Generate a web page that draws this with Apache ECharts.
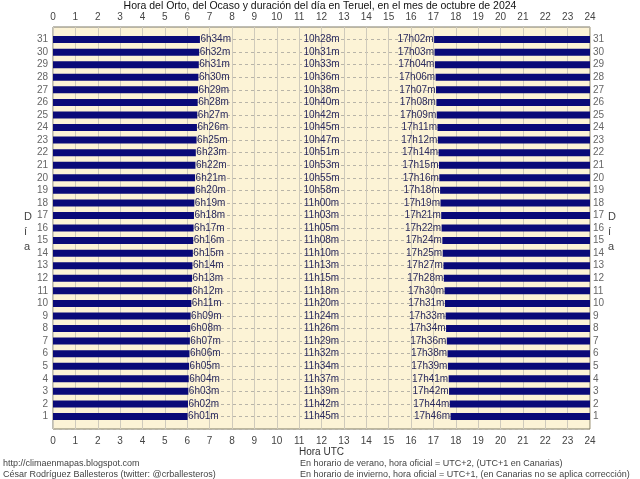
<!DOCTYPE html>
<html>
<head>
<meta charset="utf-8">
<script src="https://cdn.jsdelivr.net/npm/echarts@6/dist/echarts.min.js"></script>
<style>html,body{margin:0;padding:0;background:#fff}#c{width:640px;height:479px}</style>
</head>
<body>
<div id="c"></div>
<script>
const days = [1,2,3,4,5,6,7,8,9,10,11,12,13,14,15,16,17,18,19,20,21,22,23,24,25,26,27,28,29,30,31];
const sunrise = ['6h01m','6h02m','6h03m','6h04m','6h05m','6h06m','6h07m','6h08m','6h09m','6h11m','6h12m','6h13m','6h14m','6h15m','6h16m','6h17m','6h18m','6h19m','6h20m','6h21m','6h22m','6h23m','6h25m','6h26m','6h27m','6h28m','6h29m','6h30m','6h31m','6h32m','6h34m'];
const dayLength = ['11h45m','11h42m','11h39m','11h37m','11h34m','11h32m','11h29m','11h26m','11h24m','11h20m','11h18m','11h15m','11h13m','11h10m','11h08m','11h05m','11h03m','11h00m','10h58m','10h55m','10h53m','10h51m','10h47m','10h45m','10h42m','10h40m','10h38m','10h36m','10h33m','10h31m','10h28m'];
const sunset = ['17h46m','17h44m','17h42m','17h41m','17h39m','17h38m','17h36m','17h34m','17h33m','17h31m','17h30m','17h28m','17h27m','17h25m','17h24m','17h22m','17h21m','17h19m','17h18m','17h16m','17h15m','17h14m','17h12m','17h11m','17h09m','17h08m','17h07m','17h06m','17h04m','17h03m','17h02m'];
const hourTicks = [0,1,2,3,4,5,6,7,8,9,10,11,12,13,14,15,16,17,18,19,20,21,22,23,24];

function toHours(s){ const m = s.match(/(\d+)h(\d+)m/); return +m[1] + (+m[2])/60; }

const data = days.map((d,i)=>[d, toHours(sunrise[i]), toHours(sunset[i]), sunrise[i], dayLength[i], sunset[i]]);

const NAVY = '#0a0a78';
const TXT = '#2a2a5e';
const FONT = '10px "Liberation Sans", Arial, sans-serif';

const chart = echarts.init(document.getElementById('c'), null, {renderer:'canvas'});
chart.setOption({
  animation:false,
  backgroundColor:'#ffffff',
  textStyle:{fontFamily:'"Liberation Sans", Arial, sans-serif'},
  title:{
    text:'Hora del Orto, del Ocaso y duración del día en Teruel, en el mes de octubre de 2024',
    left:'center', top:1, padding:0,
    textStyle:{fontSize:10.5, fontWeight:'normal', color:'#111'}
  },
  grid:{left:53, right:50, top:27, bottom:50, show:true, backgroundColor:'#fcf3d6', borderColor:'#7f7a66', borderWidth:1},
  xAxis:[
    {type:'value', min:0, max:24, interval:1, position:'bottom',
     name:'Hora UTC', nameLocation:'middle', nameGap:18, nameMoveOverlap:false, nameTextStyle:{fontSize:10, color:'#333'},
     axisLine:{show:false}, axisTick:{show:false},
     axisLabel:{fontSize:10, color:'#444', margin:7, formatter:v=>hourTicks.includes(v)?String(v):''},
     splitLine:{show:true, lineStyle:{color:'#cfcabb', width:1}}},
    {type:'value', min:0, max:24, interval:1, position:'top',
     axisLine:{show:false}, axisTick:{show:false},
     axisLabel:{fontSize:10, color:'#444', margin:5, formatter:v=>hourTicks.includes(v)?String(v):''},
     splitLine:{show:false}}
  ],
  yAxis:[
    {type:'value', min:0, max:32, interval:1, position:'left',
     axisLine:{show:false}, axisTick:{show:false},
     axisLabel:{fontSize:10, color:'#666', margin:5, formatter:v=>(v>=1&&v<=31)?String(v):''},
     splitLine:{show:true, lineStyle:{color:'#b8b4a8', type:[3,3], width:1}}},
    {type:'value', min:0, max:32, interval:1, position:'right',
     axisLine:{show:false}, axisTick:{show:false},
     axisLabel:{fontSize:10, color:'#666', margin:3, formatter:v=>(v>=1&&v<=31)?String(v):''},
     splitLine:{show:false}}
  ],
  graphic:[
    {type:'text', left:24, top:209, style:{text:'D\ní\na', font:'11px "Liberation Sans", Arial, sans-serif', fill:'#444', lineHeight:15, align:'center'}},
    {type:'text', left:608, top:209, style:{text:'D\ní\na', font:'11px "Liberation Sans", Arial, sans-serif', fill:'#444', lineHeight:15, align:'center'}},
    {type:'text', left:3, top:459, style:{text:'http://climaenmapas.blogspot.com', font:'9px "Liberation Sans", Arial, sans-serif', fill:'#444'}},
    {type:'text', left:3, top:470, style:{text:'César Rodríguez Ballesteros (twitter: @crballesteros)', font:'9px "Liberation Sans", Arial, sans-serif', fill:'#444'}},
    {type:'text', left:300, top:459, style:{text:'En horario de verano, hora oficial = UTC+2, (UTC+1 en Canarias)', font:'9px "Liberation Sans", Arial, sans-serif', fill:'#444'}},
    {type:'text', left:300, top:470, style:{text:'En horario de invierno, hora oficial = UTC+1, (en Canarias no se aplica corrección)', font:'9px "Liberation Sans", Arial, sans-serif', fill:'#444'}}
  ],
  series:[{
    type:'custom',
    xAxisIndex:0, yAxisIndex:0,
    data:data,
    encode:{x:[1,2], y:0},
    renderItem:function(params, api){
      const y = api.value(0);
      const i = params.dataIndex;
      const p0 = api.coord([0,y]);
      const p1 = api.coord([api.value(1),y]);
      const p2 = api.coord([api.value(2),y]);
      const p3 = api.coord([24,y]);
      const pm = api.coord([12,y]);
      const h = 7;
      const cy = p0[1];
      return {type:'group', children:[
        {type:'rect', shape:{x:p0[0], y:cy-h/2, width:p1[0]-p0[0], height:h}, style:{fill:NAVY}},
        {type:'rect', shape:{x:p2[0], y:cy-h/2, width:p3[0]-p2[0], height:h}, style:{fill:NAVY}},
        {type:'text', style:{text:data[i][3], x:p1[0]+0.5, y:cy, align:'left', verticalAlign:'middle', textAlign:'left', textVerticalAlign:'middle', font:FONT, fill:TXT}},
        {type:'text', style:{text:data[i][4], x:pm[0], y:cy, align:'center', verticalAlign:'middle', textAlign:'center', textVerticalAlign:'middle', font:FONT, fill:TXT}},
        {type:'text', style:{text:data[i][5], x:p2[0]-0.5, y:cy, align:'right', verticalAlign:'middle', textAlign:'right', textVerticalAlign:'middle', font:FONT, fill:TXT}}
      ]};
    }
  }]
});
</script>
</body>
</html>
